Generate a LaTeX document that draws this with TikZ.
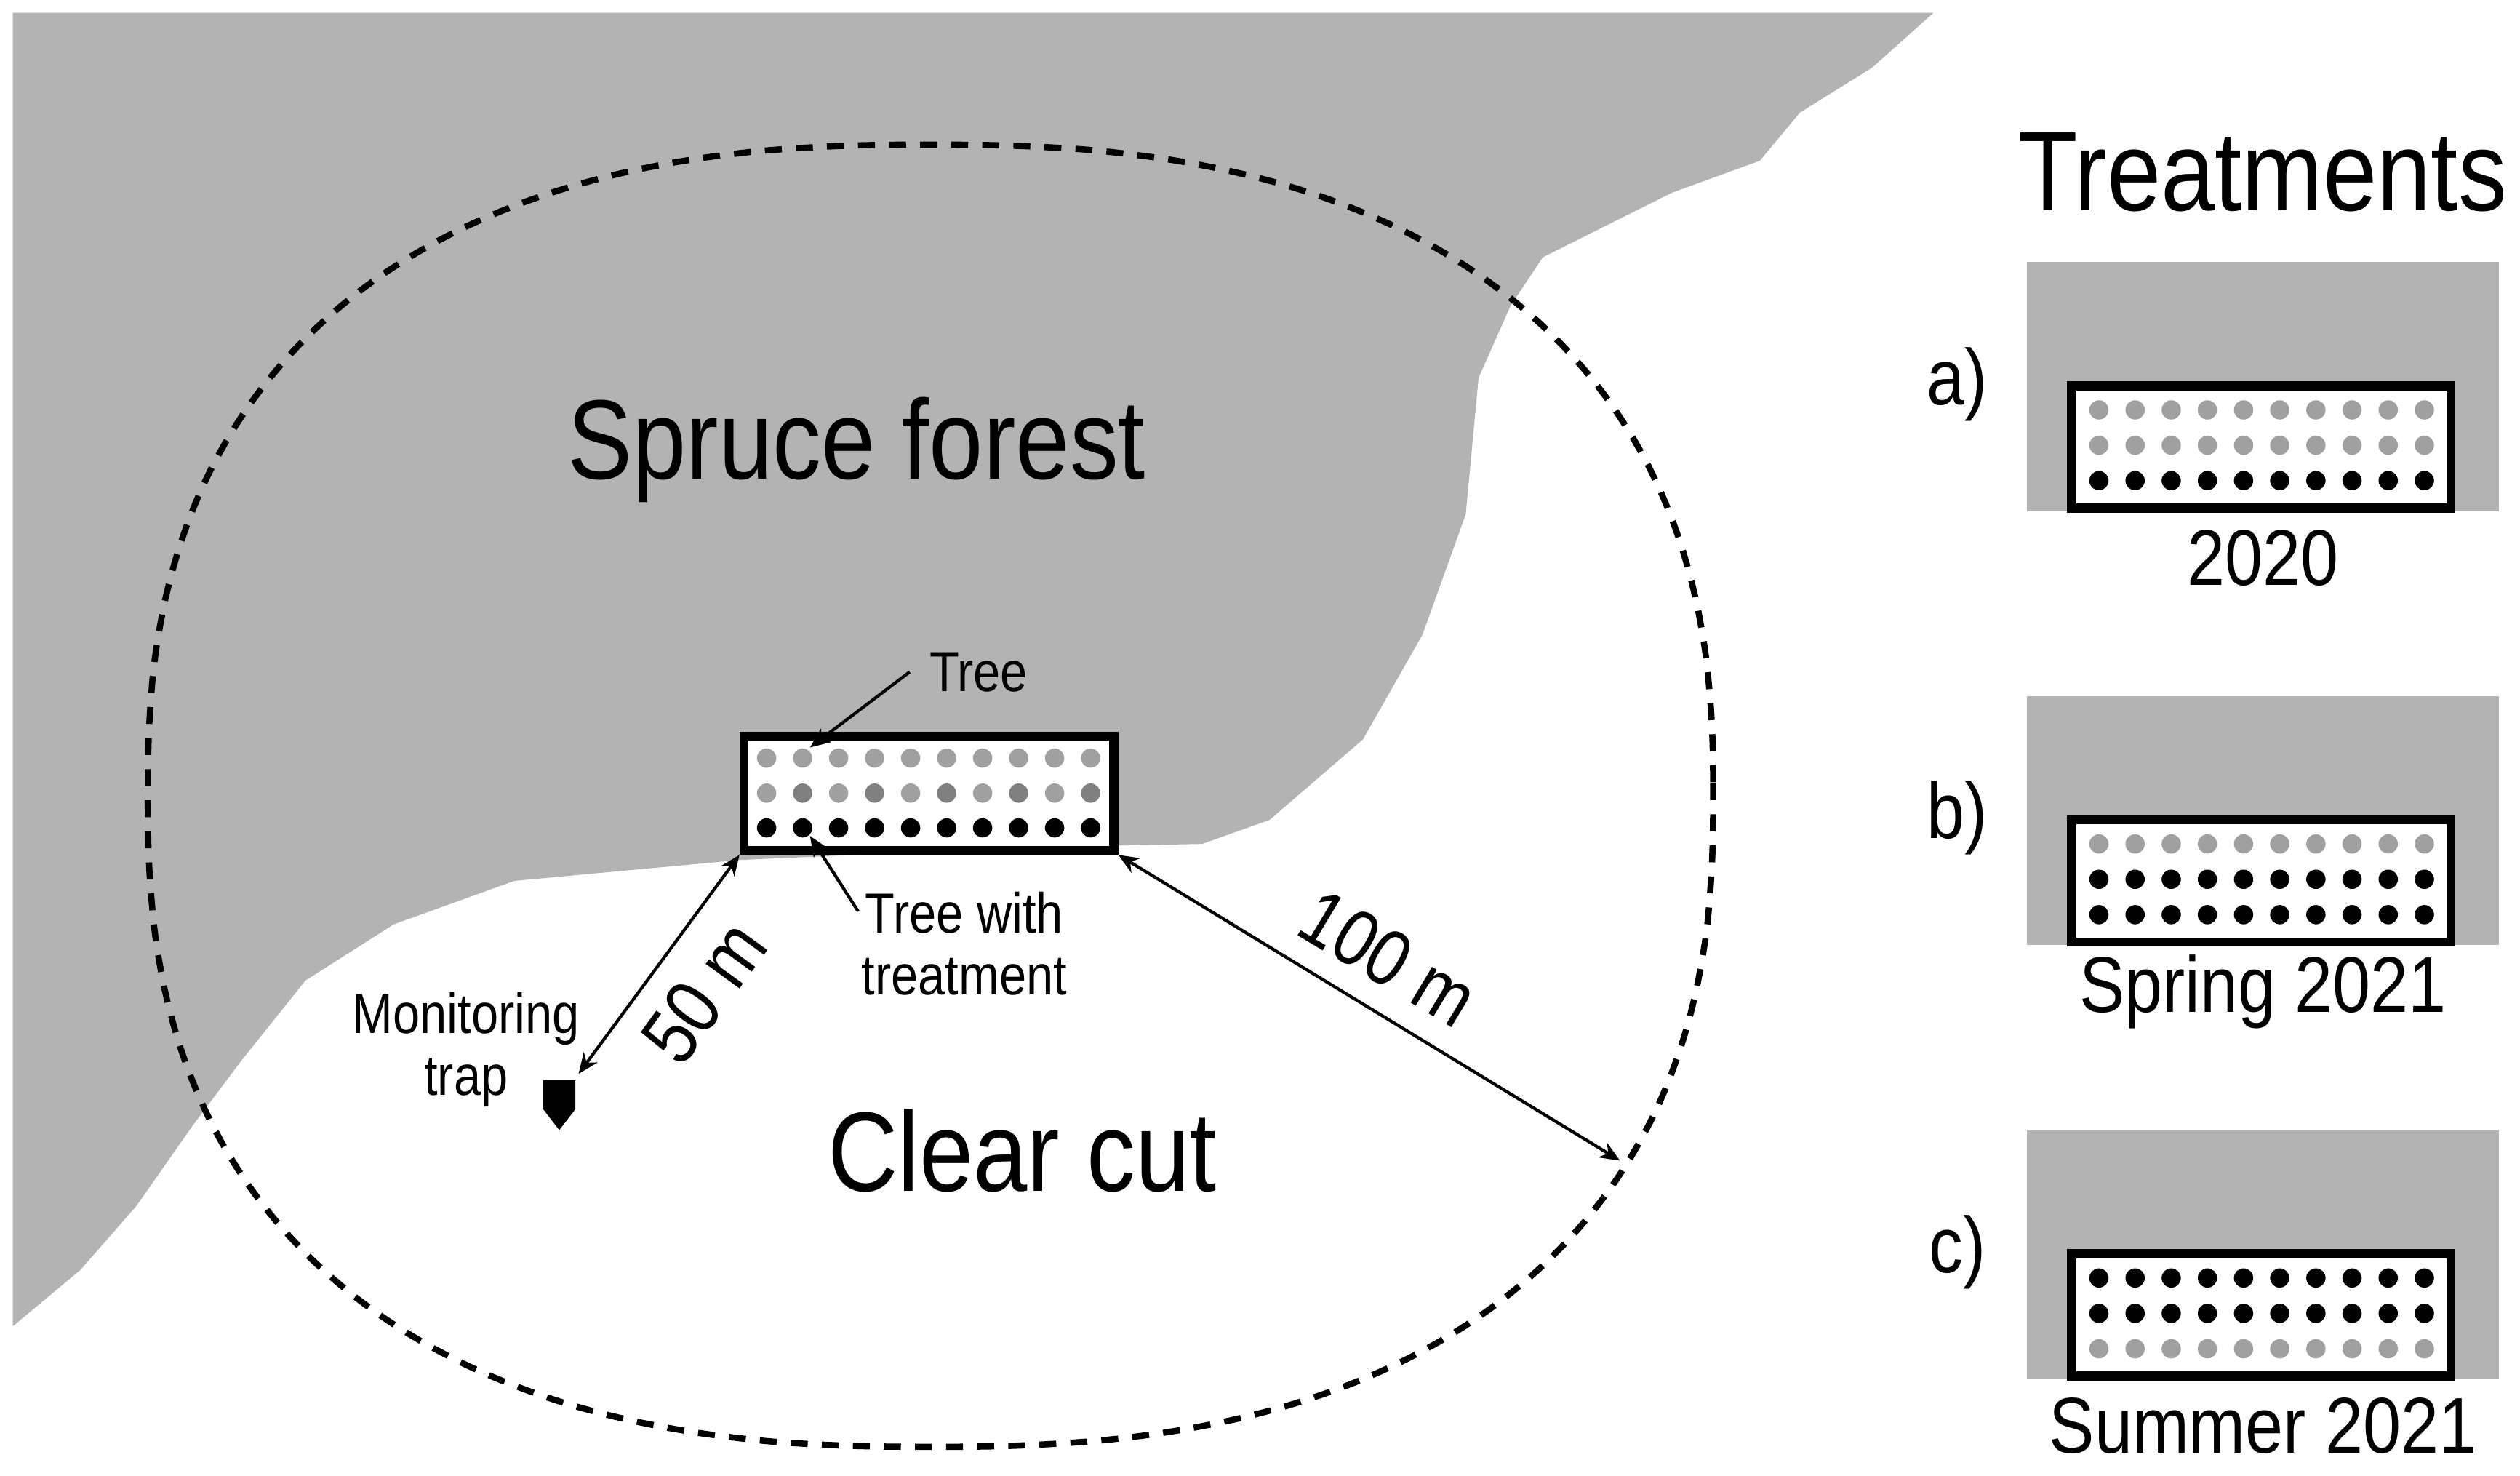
\documentclass[tikz,border=0pt]{standalone}
\usepackage{fontspec}
\setmainfont{Liberation Sans}[FakeStretch=0.86]
\usetikzlibrary{arrows.meta}
\definecolor{forest}{HTML}{B3B3B3}
\definecolor{lg}{HTML}{A0A0A0}
\definecolor{dg}{HTML}{808080}
\begin{document}
\begin{tikzpicture}[x=0.01cm,y=-0.01cm,
  box/.style={draw,line width=1.6pt,fill=white,minimum width=2.30cm,minimum height=0.71cm,inner sep=0},
  arr/.style={line width=0.55pt,-{Stealth[length=3.6pt,width=3pt]}},
  darr/.style={line width=0.55pt,{Stealth[length=3.6pt,width=3pt]}-{Stealth[length=3.6pt,width=3pt]}},
  small/.style={font=\fontsize{10}{11}\selectfont},
  mid/.style={font=\fontsize{14}{16}\selectfont},
  big/.style={font=\fontsize{20}{24}\selectfont}]
\useasboundingbox (0,0) rectangle (1568,918);
% forest
\fill[forest] (8,8) -- (1203,8) -- (1165,42) -- (1120,70) -- (1095,100) -- (1040,120) -- (1000,140) -- (960,160) -- (940,190) -- (920,235) -- (912,320) -- (885,395) -- (848,460) -- (790,510) -- (748,525) -- (640,527) -- (460,535) -- (320,548) -- (245,575) -- (190,610) -- (150,660) -- (120,700) -- (85,750) -- (50,790) -- (8,825) -- cycle;
% circle
\draw[line width=1.1pt,dash pattern=on 3pt off 2.5pt] plot[domain=0.5:360.5,samples=181,smooth]
  ({579+487*sign(cos(\x))*abs(cos(\x))^0.82},{495-405*sign(sin(\x))*abs(sin(\x))^0.82}) -- cycle;
\node[big] (spruce) at (533,280) {Spruce forest};
\node[big] (clear) at (636,716) {Clear cut};
% plot
\node[box] (plot) at (578,493.5) {};
\foreach \i in {0,...,9} {
  \fill[lg] ({477+22.4*\i},471.6) circle (6);
  \pgfmathparse{mod(\i,2)==1?"dg":"lg"}
  \fill[\pgfmathresult] ({477+22.4*\i},493.4) circle (6);
  \fill[black] ({477+22.4*\i},515) circle (6);
}
\coordinate (tree) at (504,465);
\coordinate (treat) at (504,520);
\node[small,anchor=west] (treelab) at (566,418) {Tree};
\draw[arr] (treelab.west) -- (tree);
\node[small,align=center] (treatlab) at (600,587) {Tree with\\treatment};
\draw[arr] (534,567) -- (treat);
% trap
\fill (338,672) -- (358,672) -- (358,690) -- (348,703) -- (338,690) -- cycle;
\coordinate (trap) at (360,668);
\node[small,align=center] (traplab) at (290,653) {Monitoring\\trap};
\coordinate (edge) at (1008,722);
\draw[darr] (plot.south west) -- (trap);
\draw[darr] (plot.south east) -- (edge);
\node[mid,rotate=54] (l50) at (438,617) {50 m};
\node[mid,rotate=-31] (l100) at (864,596) {100 m};
% treatments
\node[big] (tt) at (1408,107) {Treatments};
\foreach \y/\lab/\yr/\ca/\cb/\cc in {163/a)/2020/lg/lg/black, 433/b)/Spring 2021/lg/black/black, 703/c)/Summer 2021/black/black/lg} {
  \fill[forest] (1261,\y) rectangle (1555,\y+155);
  \draw[line width=1.6pt,fill=white] (1289,\y+77) rectangle (1525,\y+153);
  \foreach \i in {0,...,9} {
    \fill[\ca] ({1306+22.5*\i},\y+92) circle (6);
    \fill[\cb] ({1306+22.5*\i},\y+114) circle (6);
    \fill[\cc] ({1306+22.5*\i},\y+136) circle (6);
  }
  \node[mid] at (1218,\y+76) {\lab};
  \node[mid] at (1408,\y+184) {\yr};
}
\end{tikzpicture}
\end{document}
